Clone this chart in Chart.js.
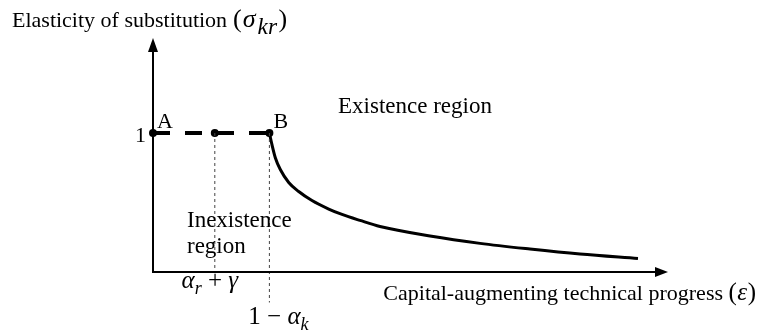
<!DOCTYPE html>
<html>
<head>
<meta charset="utf-8">
<script src="https://cdn.jsdelivr.net/npm/chart.js@4"></script>
<style>
  html, body { margin: 0; padding: 0; background: #fff; }
  #wrap { width: 758px; height: 333px; }
</style>
</head>
<body>
<div id="wrap"><canvas id="c" width="758" height="333"></canvas></div>
<script>
// 水平段：A、中間點、B（σ = 1）
const flatX = [0, 1.2, 2.26];
const flatY = [1, 1, 1];
const pointNames = ['A', '', 'B'];

// 存在區域的曲線（從 B 往右下降）
const curveX = [2.26, 2.311, 2.375, 2.472, 2.635, 2.829, 3.087, 3.412, 3.67, 4.019, 4.408, 5.379, 6.35, 7.32, 8.291, 9.417];
const curveY = [1.0, 0.914, 0.822, 0.737, 0.644, 0.579, 0.514, 0.453, 0.414, 0.371, 0.327, 0.259, 0.206, 0.165, 0.129, 0.097];

// 刻度標籤
const yTickValues = [1];
const yTickLabels = ['1'];
const xTickValues = [1.2, 2.26];

const SERIF = '"Liberation Serif", "DejaVu Serif", serif';

// 把 x, y 陣列組成 {x, y}
function pts(xs, ys) {
    return xs.map((x, i) => ({ x: x, y: ys[i] }));
}

// 畫混合字型（含斜體、下標）的文字；p.m = 數學字大小
function drawRich(ctx, parts, x, y, align, size, msize) {
    const fontOf = p => {
        let s = p.m ? msize : size;
        if (p.sub) s = msize * (p.sf || 0.72);
        return (p.it ? 'italic ' : '') + s + 'px ' + SERIF;
    };
    let total = 0;
    parts.forEach(p => {
        ctx.font = fontOf(p);
        p.w = ctx.measureText(p.t).width + (p.gap || 0);
        total += p.w;
    });
    let cx = align === 'right' ? x - total : (align === 'center' ? x - total / 2 : x);
    parts.forEach(p => {
        ctx.font = fontOf(p);
        ctx.textAlign = 'left';
        ctx.textBaseline = 'alphabetic';
        ctx.fillText(p.t, cx + (p.gap || 0) / 2, p.sub ? y + msize * 0.25 : y);
        cx += p.w;
    });
}

// 座標軸（箭頭）與文字
const axesPlugin = {
    id: 'axesPlugin',
    afterDraw(chart) {
        const ctx = chart.ctx;
        const a = chart.chartArea;
        const xs = chart.scales.x, ys = chart.scales.y;
        ctx.save();
        ctx.strokeStyle = '#000';
        ctx.fillStyle = '#000';
        ctx.lineWidth = 2;
        let ox = xs.getPixelForValue(0), oy = ys.getPixelForValue(0);
        // y 軸
        ctx.beginPath();
        ctx.moveTo(ox, oy + 1);
        ctx.lineTo(ox, a.top + 10);
        ctx.stroke();
        ctx.beginPath();
        ctx.moveTo(ox, a.top - 2);
        ctx.lineTo(ox - 5, a.top + 12);
        ctx.lineTo(ox + 5, a.top + 12);
        ctx.closePath();
        ctx.fill();
        // x 軸
        ctx.beginPath();
        ctx.moveTo(ox - 1, oy);
        ctx.lineTo(a.right - 10, oy);
        ctx.stroke();
        ctx.beginPath();
        ctx.moveTo(a.right, oy);
        ctx.lineTo(a.right - 13, oy - 5);
        ctx.lineTo(a.right - 13, oy + 5);
        ctx.closePath();
        ctx.fill();

        // 文字
        const fs = 22, ms = 25;
        ctx.font = fs + 'px ' + SERIF;
        ctx.textBaseline = 'alphabetic';
        // y 刻度
        yTickValues.forEach((v, i) => {
            ctx.textAlign = 'right';
            ctx.fillText(yTickLabels[i], ox - 7, ys.getPixelForValue(v) + 9);
        });
        // 點名稱
        pointNames.forEach((n, i) => {
            if (!n) return;
            ctx.textAlign = 'left';
            ctx.fillText(n, xs.getPixelForValue(flatX[i]) + 4, ys.getPixelForValue(flatY[i]) - 5);
        });
        // x 刻度（數學式）
        let x1 = xs.getPixelForValue(xTickValues[0]);
        drawRich(ctx, [
            { t: 'α', it: true, m: true }, { t: 'r', it: true, sub: true }, { t: ' + ', m: true }, { t: 'γ', it: true, m: true }
        ], x1 - 5, oy + 16, 'center', fs, ms);
        let x2 = xs.getPixelForValue(xTickValues[1]);
        drawRich(ctx, [
            { t: '1 − ', m: true }, { t: 'α', it: true, m: true }, { t: 'k', it: true, sub: true }
        ], x2 + 9, oy + 52, 'center', fs, ms);

        // 軸標題
        drawRich(ctx, [
            { t: 'Elasticity of substitution ' }, { t: '(', m: true, gap: 1 }, { t: 'σ', it: true, m: true, gap: 1 },
            { t: 'kr', it: true, sub: true, sf: 0.9, gap: 3 }, { t: ')', m: true }
        ], 12, 27, 'left', fs, 26);
        drawRich(ctx, [
            { t: 'Capital-augmenting technical progress ' }, { t: '(', m: true }, { t: 'ε', it: true, m: true, gap: 1 }, { t: ')', m: true }
        ], 756, 300, 'right', fs, ms);

        // 區域文字
        ctx.font = '23px ' + SERIF;
        ctx.textAlign = 'left';
        ctx.fillText('Existence region', 338, 113);
        ctx.fillText('Inexistence', 187, 227);
        ctx.fillText('region', 187, 253);
        ctx.restore();
    }
};

let config = {
    type: 'scatter',
    data: {
        datasets: [
            { // 虛線 1
                data: pts([xTickValues[0], xTickValues[0]], [1, 0]),
                showLine: true,
                borderColor: '#444',
                borderWidth: 1,
                borderDash: [3, 3],
                pointRadius: 0,
            },
            { // 虛線 2（延伸到 x 軸下方）
                data: pts([xTickValues[1], xTickValues[1]], [1, -0.22]),
                showLine: true,
                borderColor: '#444',
                borderWidth: 1,
                borderDash: [3, 3],
                pointRadius: 0,
                clip: false,
            },
            { // 曲線
                data: pts(curveX, curveY),
                showLine: true,
                borderColor: '#000',
                borderWidth: 3,
                pointRadius: 0,
                cubicInterpolationMode: 'monotone',
            },
            { // 水平粗虛線 A → B
                data: pts(flatX, flatY),
                showLine: true,
                borderColor: '#000',
                backgroundColor: '#000',
                borderWidth: 4,
                borderDash: [17, 15],
                pointRadius: 4,
                pointBackgroundColor: '#000',
                pointBorderWidth: 0,
                clip: false,
            },
        ]
    },
    options: {
        responsive: false,
        animation: false,
        layout: { padding: { left: 153, right: 90, top: 40, bottom: 61 } },
        plugins: {
            legend: { display: false },
            tooltip: { enabled: false },
        },
        scales: {
            x: { type: 'linear', min: 0, max: 10, display: false },
            y: { type: 'linear', min: 0, max: 1.669, display: false },
        }
    },
    plugins: [axesPlugin]
};

new Chart(document.getElementById('c'), config);
</script>
</body>
</html>
